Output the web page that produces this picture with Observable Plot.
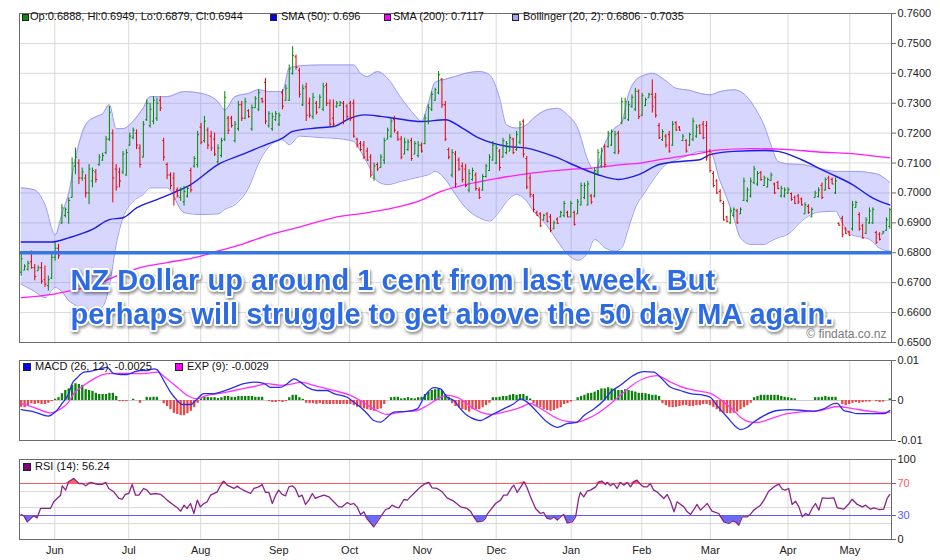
<!DOCTYPE html>
<html><head><meta charset="utf-8">
<script src="https://cdn.jsdelivr.net/npm/d3@7"></script>
<script src="https://cdn.jsdelivr.net/npm/@observablehq/plot@0.6"></script>
<style>
body{margin:0;background:#fff;}
#chart{position:relative;width:940px;height:560px;overflow:hidden;font-family:"Liberation Sans",Arial,sans-serif;}
#chart svg{position:absolute;left:0;}
.lg{position:absolute;font-size:11px;line-height:11px;color:#111;white-space:nowrap;font-family:"Liberation Sans",Arial,sans-serif;}
.sq{position:absolute;border:1px solid #222;box-sizing:border-box;}
</style></head>
<body><div id="chart"></div>
<script>
// ---------------- data ----------------
const monthLabels = ["Jun","Jul","Aug","Sep","Oct","Nov","Dec","Jan","Feb","Mar","Apr","May"];
const monthTicks  = [9.9,31.7,52.9,75.9,96.8,118.2,140.0,162.1,182.9,203.1,226.0,244.2]; // trading-day index
const priceTicks = [0.65,0.66,0.67,0.68,0.69,0.70,0.71,0.72,0.73,0.74,0.75,0.76];
const macdTicks = [-0.01,0,0.01];
const rsiGrid = [20,40,60];
const supportLevel = [0.68];
const annotation = ["NZ Dollar up around 1 cent from last week. But\nperhaps will struggle to get above the 50 day MA again."];
const copyright = ["\u00a9 findata.co.nz"];
const mainLegend = ["Op:0.6888, Hi:0.6949, Lo:0.6879, Cl:0.6944","SMA (50): 0.696","SMA (200): 0.7117","Bollinger (20, 2): 0.6806 - 0.7035"];
const macdLegend = ["MACD (26, 12): -0.0025","EXP (9): -0.0029"];
const rsiLegend = ["RSI (14): 56.24"];

// daily bars [open, high, low, close] in 1/10000 USD
const barOHLC = [
[6735,6800,6722,6780],[6742,6760,6740,6755],[6745,6772,6739,6765],[6770,6806,6745,6750],[6750,6761,6706,6720],
[6740,6756,6739,6750],[6750,6767,6695,6705],[6710,6756,6684,6695],[6690,6722,6672,6710],[6715,6795,6711,6785],
[6785,6833,6772,6815],[6815,6828,6778,6790],[6900,6961,6895,6950],[6925,6950,6917,6945],[6935,6983,6895,6975],
[6985,7117,6983,7100],[7090,7150,7061,7120],[7100,7111,7028,7050],[7050,7083,7039,7070],[7050,7061,6983,7000],
[7000,7095,6961,7080],[7040,7083,7017,7075],[7070,7078,7033,7045],[7095,7128,7089,7120],[7110,7133,7106,7125],
[7135,7189,7128,7180],[7180,7289,7172,7270],[7200,7211,6967,7050],[7080,7095,7006,7020],[7070,7083,7017,7040],
[7070,7139,7061,7130],[7060,7145,7056,7135],[7160,7200,7156,7190],[7185,7217,7178,7210],[7200,7211,7145,7160],
[7150,7161,7083,7095],[7120,7239,7117,7230],[7245,7311,7239,7300],[7225,7300,7217,7280],[7240,7322,7228,7310],
[7250,7317,7239,7300],[7310,7322,7272,7285],[7175,7183,7106,7120],[7095,7100,7044,7060],[7060,7067,7011,7025],
[7050,7067,6956,6980],[7010,7017,6983,6990],[6985,7017,6972,7010],[6970,7022,6956,7005],[6990,7022,6983,7015],
[7075,7083,7000,7010],[7090,7122,7083,7115],[7095,7206,7083,7195],[7220,7233,7161,7170],[7175,7256,7167,7240],
[7210,7217,7145,7160],[7190,7206,7139,7150],[7180,7200,7122,7130],[7105,7161,7095,7150],[7125,7183,7117,7175],
[7180,7339,7172,7320],[7250,7256,7195,7210],[7250,7256,7217,7225],[7175,7239,7167,7230],[7215,7306,7206,7295],
[7295,7306,7239,7250],[7250,7317,7245,7305],[7275,7278,7250,7255],[7215,7294,7206,7285],[7285,7322,7283,7315],
[7280,7345,7272,7335],[7315,7317,7300,7305],[7370,7383,7228,7240],[7225,7272,7217,7265],[7215,7267,7206,7255],
[7245,7272,7239,7265],[7230,7267,7222,7260],[7335,7345,7278,7290],[7310,7361,7306,7350],[7310,7428,7306,7415],
[7400,7489,7394,7460],[7455,7461,7411,7420],[7410,7417,7317,7330],[7295,7361,7289,7350],[7355,7367,7239,7260],
[7300,7317,7250,7260],[7255,7333,7245,7320],[7300,7306,7261,7270],[7285,7328,7283,7320],[7280,7367,7272,7355],
[7360,7367,7289,7300],[7300,7311,7222,7230],[7250,7311,7222,7230],[7290,7306,7283,7300],[7292,7306,7289,7302],
[7300,7306,7228,7240],[7290,7295,7245,7255],[7300,7306,7239,7250],[7300,7311,7183,7190],[7180,7183,7150,7160],
[7165,7172,7139,7145],[7160,7172,7111,7120],[7140,7150,7106,7110],[7120,7128,7050,7060],[7050,7100,7039,7090],
[7095,7100,7072,7080],[7085,7128,7083,7120],[7110,7183,7095,7175],[7180,7217,7178,7210],[7190,7250,7183,7240],
[7245,7256,7200,7210],[7200,7206,7172,7180],[7180,7189,7111,7120],[7130,7183,7128,7170],[7145,7178,7139,7170],
[7175,7183,7106,7115],[7130,7172,7128,7165],[7125,7172,7117,7160],[7160,7167,7133,7140],[7165,7261,7161,7250],
[7240,7295,7228,7285],[7280,7339,7272,7330],[7310,7350,7306,7345],[7335,7406,7328,7395],[7380,7383,7283,7295],
[7295,7306,7172,7180],[7145,7150,7111,7120],[7060,7145,7050,7135],[7130,7139,7017,7030],[7110,7117,7072,7080],
[7090,7100,7033,7045],[7080,7095,7017,7025],[7010,7078,7000,7065],[7045,7083,7039,7075],[7060,7067,7006,7015],
[7010,7017,6978,6985],[7010,7061,7006,7055],[7055,7095,7050,7090],[7075,7128,7072,7120],[7110,7172,7106,7160],
[7100,7161,7095,7150],[7140,7145,7072,7085],[7120,7183,7117,7175],[7135,7172,7128,7165],[7140,7195,7139,7185],
[7180,7183,7128,7135],[7145,7206,7139,7195],[7170,7239,7161,7230],[7240,7245,7117,7130],[7115,7122,7011,7020],
[7050,7061,6983,6995],[6990,6995,6934,6945],[6935,6939,6922,6925],[6930,6934,6884,6890],[6910,6928,6906,6925],
[6930,6934,6900,6905],[6920,6928,6867,6875],[6880,6906,6878,6900],[6912,6917,6895,6898],[6920,6939,6917,6935],
[6925,6972,6917,6965],[6935,6939,6917,6920],[6920,6972,6917,6965],[6935,6939,6889,6895],[6930,6978,6928,6970],
[6960,7033,6956,7025],[6985,7033,6978,7025],[6960,7039,6956,7030],[6990,6995,6961,6970],[6990,7083,6983,7075],
[7070,7145,7061,7135],[7090,7150,7083,7140],[7155,7161,7083,7095],[7155,7206,7150,7200],[7160,7211,7156,7205],
[7135,7206,7128,7195],[7200,7206,7128,7140],[7235,7317,7228,7305],[7250,7317,7245,7305],[7245,7306,7239,7295],
[7290,7328,7283,7320],[7280,7350,7272,7340],[7340,7345,7245,7255],[7260,7333,7256,7325],[7292,7317,7289,7312],
[7318,7333,7317,7330],[7330,7378,7267,7290],[7320,7333,7250,7260],[7225,7233,7178,7185],[7178,7211,7172,7205],
[7190,7195,7150,7160],[7195,7206,7133,7140],[7160,7239,7156,7230],[7235,7239,7206,7210],[7220,7222,7206,7210],
[7175,7195,7172,7190],[7175,7178,7133,7140],[7160,7200,7156,7195],[7180,7250,7172,7240],[7190,7228,7183,7220],
[7225,7228,7195,7200],[7230,7239,7178,7185],[7225,7239,7106,7120],[7140,7145,7067,7075],[7065,7072,7017,7025],
[7040,7045,6995,7000],[7005,7011,6967,6975],[6965,6972,6906,6910],[6920,6922,6900,6905],[6900,6950,6895,6940],
[6925,6950,6917,6945],[6940,6945,6895,6900],[6930,6950,6928,6945],[6975,7050,6972,7040],[6975,7017,6967,7010],
[6990,7050,6983,7040],[7035,7089,7028,7080],[7030,7072,7022,7065],[7068,7072,7039,7045],[7025,7056,7022,7050],
[7020,7050,7017,7045],[7042,7067,7039,7060],[7030,7033,6995,7000],[7035,7039,7011,7015],[6990,7022,6983,7015],
[6990,7017,6983,7010],[7000,7017,6995,7012],[6998,7000,6972,6978],[6985,6989,6961,6965],[6990,6995,6961,6970],
[6980,6983,6956,6960],[6930,6967,6928,6960],[6955,6961,6928,6935],[6920,6950,6917,6945],[6985,7006,6983,7000],
[6988,7017,6983,7010],[7025,7033,6978,6985],[7010,7050,7006,7045],[7050,7056,7011,7015],[7045,7050,7028,7030],
[7000,7050,6995,7040],[6898,6900,6889,6892],[6915,6922,6850,6860],[6880,6884,6861,6865],[6870,6872,6856,6858],
[6880,6972,6872,6960],[6952,6972,6950,6968],[6928,6934,6872,6880],[6890,6895,6845,6850],[6865,6917,6861,6910],
[6900,6950,6895,6940],[6900,6950,6895,6945],[6868,6872,6828,6835],[6862,6867,6839,6845],[6863,6872,6861,6870],
[6875,6917,6872,6910],[6888,6949,6879,6944]
];

// moving averages [bar index, value in 1/10000 USD]
const sma50 = [[0,6836],[9,6836],[14,6850],[21,6878],[26,6911],[30,6917],[34,6950],[40,6978],[46,7006],[50,7028],[58,7095],[65,7128],[72,7161],[77,7183],[80,7206],[87,7217],[92,7222],[97,7250],[101,7261],[106,7256],[110,7250],[118,7239],[125,7245],[130,7217],[135,7183],[143,7156],[149,7150],[157,7122],[165,7083],[170,7061],[176,7045],[182,7061],[188,7095],[195,7106],[200,7111],[203,7128],[210,7139],[219,7142],[223,7139],[230,7111],[237,7072],[245,7028],[251,6983],[256,6960]];
const sma200 = [[0,6650],[9,6661],[14,6672],[21,6689],[28,6722],[35,6750],[43,6767],[53,6789],[58,6806],[65,6828],[72,6856],[82,6886],[92,6917],[102,6934],[112,6956],[117,6972],[124,7006],[131,7028],[141,7050],[151,7067],[161,7078],[168,7083],[177,7095],[181,7098],[190,7115],[200,7132],[205,7143],[215,7148],[225,7146],[235,7137],[244,7132],[256,7117]];

// Bollinger (20,2)
const bbIdx = [0,4,7,10,12,14,16,19,22,24,26,28,30,33,36,38,43,48,53,58,60,63,67,70,73,75,77,79,82,88,92,98,100,102,105,108,112,116,118,120,122,125,128,131,135,138,141,143,146,149,151,155,158,161,164,167,169,172,175,177,179,181,184,186,190,193,197,200,203,206,208,210,212,215,217,219,221,223,226,230,235,240,242,244,246,250,253,256];
const bbUpper = [7017,7010,6961,6860,6930,7000,7117,7228,7255,7265,7295,7215,7215,7240,7285,7322,7322,7339,7333,7305,7278,7322,7333,7345,7339,7339,7339,7417,7425,7428,7428,7428,7400,7389,7406,7383,7317,7260,7239,7300,7370,7380,7390,7400,7406,7395,7317,7228,7217,7228,7250,7278,7283,7261,7217,7110,7072,7165,7217,7235,7330,7375,7395,7400,7375,7350,7343,7333,7328,7339,7343,7345,7339,7306,7270,7225,7160,7106,7097,7095,7083,7072,7072,7072,7072,7068,7060,7035];
const bbLower = [6695,6670,6650,6684,6670,6640,6625,6605,6610,6620,6690,6828,6917,6972,6995,7017,7017,6934,6928,6930,6945,6961,7017,7100,7155,7172,7178,7161,7190,7185,7183,7172,7140,7100,7039,7028,7039,7050,7055,7061,7072,7045,6995,6950,6917,6906,6939,6970,6995,6972,6939,6890,6840,6795,6775,6800,6845,6817,6806,6817,6883,6950,7005,7040,7095,7110,7128,7139,7139,7039,6983,6917,6850,6828,6828,6828,6840,6850,6862,6906,6936,6939,6900,6865,6856,6845,6815,6806];

// MACD (units of 0.0001)
const macdLine = [[0,-23],[4,-29],[8,-39],[10,-29],[12,-8],[14,17],[15,42],[16.5,57],[18.5,71],[20.4,73],[23.4,79],[25.3,83],[27.3,67],[29.3,65],[31.2,65],[33.2,71],[35.2,75],[37.1,75],[39.1,79],[40,77],[42,50],[44,21],[46,0],[47.4,-10],[49.9,-10],[51.9,4],[53.8,17],[56.8,17],[58.7,21],[62.7,33],[65.6,42],[68.6,46],[71.5,43],[73.5,33],[76.4,33],[78.4,42],[80.4,54],[82.3,46],[84.3,33],[87.2,25],[90.2,25],[92.1,17],[96.1,8],[98,-4],[100,-17],[102,-33],[103.9,-50],[105.9,-54],[107.9,-42],[109.8,-29],[113.8,-27],[116.7,-21],[118.7,8],[121.6,32],[123.6,29],[125.5,8],[127.5,0],[129.5,-21],[131.4,-37],[132.4,-42],[135.4,-50],[137.4,-42],[139.3,-33],[142.2,-21],[145.2,-8],[147.2,4],[149.1,-4],[152.1,-29],[155,-54],[158,-67],[160.9,-58],[163.9,-54],[165.8,-38],[168.8,-21],[171.7,0],[173.7,21],[176.6,38],[179.6,58],[181.5,68],[183.5,72],[186.5,71],[188.4,58],[191.4,33],[194.3,25],[197.3,17],[201.2,13],[203.1,8],[205.1,-13],[208.1,-42],[211,-68],[212,-73],[214,-67],[215.9,-54],[218.9,-38],[222.8,-25],[226.7,-23],[230.6,-25],[233.6,-27],[236.5,-21],[239.5,-8],[240.5,-7],[242.4,-25],[244.4,-29],[246.4,-33],[250.3,-33],[254.2,-33],[256,-25]];
const signalLine = [[0,-8],[3.7,-17],[8.6,-31],[11.6,-21],[13.6,-8],[15.5,17],[18.5,38],[21.4,54],[25.3,67],[29.3,68],[33.2,67],[37.1,68],[40,71],[43,54],[46,33],[48.9,13],[51.9,4],[54.8,13],[58.7,18],[62.7,25],[68.6,35],[72.5,42],[76.4,38],[80.4,42],[82.3,46],[86.2,38],[92.1,25],[97,13],[100,0],[103.9,-21],[107.9,-35],[111.8,-29],[116.7,-25],[119.6,-13],[123.6,8],[125.5,13],[128.5,8],[131.4,-8],[132.4,-15],[135.4,-29],[138.3,-35],[142.2,-29],[147.2,-17],[150.1,-7],[152.1,-15],[155,-30],[158,-45],[160.9,-52],[163.9,-54],[166.8,-46],[169.7,-33],[171.7,-21],[173.7,-8],[176.6,13],[179.6,35],[183.5,55],[187.4,62],[191.4,46],[195.3,32],[199.2,24],[203.1,18],[205.1,8],[208,-10],[210,-25],[212,-42],[214,-52],[216.9,-55],[220.8,-46],[225.7,-33],[230.6,-28],[235.5,-25],[240.5,-15],[245.4,-21],[250.3,-27],[254.2,-30],[256,-29]];
const macdHist = [
-17,-18,-13,-8,-10,-8,-10,-10,-7,-3,
3,7,17,25,29,38,42,40,38,27,
25,23,18,15,15,15,18,18,10,-3,
-3,-3,0,3,0,-7,0,8,7,8,
8,0,-8,-15,-23,-32,-35,-38,-38,-33,
-27,-18,-7,4,8,8,7,7,5,7,
10,10,8,8,10,10,10,10,10,8,
8,8,0,-3,-5,-5,-3,-5,-3,7,
13,13,7,3,-7,-8,-8,-10,-8,-10,
-10,-10,-10,-10,-10,-10,-10,-10,-13,-17,
-18,-21,-23,-25,-27,-23,-21,-10,0,7,
8,8,4,5,7,5,4,7,8,15,
21,25,27,29,25,15,8,-8,-15,-18,
-23,-25,-29,-23,-23,-23,-18,-13,-7,7,
7,8,10,10,13,15,13,15,15,10,
4,-8,-15,-18,-23,-25,-27,-25,-21,-18,
-10,-8,-4,0,7,10,13,17,18,21,
25,29,29,32,29,27,25,25,27,25,
23,21,18,18,17,15,13,13,10,-8,
-13,-17,-18,-17,-15,-13,-13,-15,-15,-13,
-13,-10,-10,-13,-17,-23,-29,-32,-33,-33,
-32,-29,-23,-18,-13,-7,7,10,13,13,
13,13,13,13,10,8,7,5,4,0,
0,0,0,0,7,7,8,10,8,8,
8,0,-10,-13,-10,-7,-5,-7,-5,-4,
-4,0,-3,-5,-4,0,4];

// RSI (14) [bar index, value]
const rsiLine = [[0,31.3],[0.8,29.6],[1.8,22.1],[2.8,26.3],[3.7,29.6],[4.7,27.1],[5.7,38.8],[7.7,38.8],[8.6,38.8],[9.6,47.1],[10.6,51.3],[11.6,55.4],[12.1,67.1],[13.1,61.7],[14,72.1],[15.5,76.3],[17,70],[18,70],[19,67.1],[20.4,71.3],[22.4,68.8],[23.9,68.8],[24.9,71.3],[25.8,63.8],[27.3,59.6],[28.8,51.3],[29.8,50.4],[30.7,56.3],[31.7,57.5],[32.7,68.8],[33.7,55.4],[34.7,55.4],[36.1,63.8],[37.1,61.7],[38.1,56.3],[39.6,57.5],[41.1,56.3],[42,53.3],[43,49.2],[45,42.9],[46,39.6],[47,35.4],[48,42.9],[48.9,38.8],[49.9,45],[50.9,32.5],[51.9,49.2],[52.8,40.8],[53.8,45],[54.8,47.1],[55.8,55.4],[57.8,59.6],[58.7,67.1],[59.7,72.9],[60.7,67.9],[62.7,63.8],[63.7,66.7],[64.6,63.8],[66.1,60.4],[67.6,57.5],[68.6,63.8],[70,65.8],[71,68.8],[72,58.8],[73,58.8],[74,45],[75,55.4],[75.9,61.7],[76.9,56.3],[77.9,54.6],[78.9,65.8],[79.9,67.1],[80.8,63.8],[81.8,53.3],[82.8,55.4],[83.8,43.8],[84.8,49.2],[85.8,57.5],[86.7,51.3],[87.7,53.3],[89.2,55.4],[90.7,53.3],[92.1,47.1],[93.6,40.8],[94.6,40.8],[96.1,46.3],[97.1,43.8],[98,45],[99,40.8],[100,31.3],[101,34.6],[102,25.4],[103.9,15.8],[104.9,22.1],[105.9,28.3],[107.4,37.5],[108.4,38.8],[109.3,42.9],[110.3,40.8],[111.3,39.6],[112.8,50],[113.8,49.2],[114.7,53.3],[116.2,59.6],[117.7,65.8],[118.7,68.8],[120.1,71.3],[121.1,64.6],[122.6,63.8],[124.1,59.6],[125.5,52.1],[127.5,47.9],[129.5,40.8],[131.4,38.8],[132.4,35.4],[133.4,28.3],[134.4,22.1],[135.9,22.9],[136.8,26.3],[137.3,31.3],[138.3,36.7],[139.8,45],[141.3,49.2],[142.2,55.4],[143.2,55.4],[144.7,65.8],[145.2,67.9],[146.2,58.8],[148.2,72.1],[149.1,64.6],[150.1,53.3],[151.6,38.8],[153,32.5],[154,33.8],[155,26.3],[156,25.4],[157,28.3],[158,24.2],[159,28.3],[159.9,31.3],[160.9,20.8],[162.4,22.1],[163.4,28.3],[164.3,51.3],[164.8,58.8],[165.8,53.3],[166.8,60.4],[167.8,61.7],[169.3,65.8],[170.3,72.1],[171.2,72.9],[172.2,68.8],[172.7,71.3],[173.7,67.1],[174.6,70],[175.6,63.8],[176.6,71.3],[177.6,67.9],[178.6,71.3],[179.6,65.8],[180.5,72.1],[181.5,74.2],[182.5,68.8],[183.5,65.8],[184.5,65.8],[185.4,70],[186.4,61.7],[187.4,59.6],[188.4,55.4],[189.4,51.3],[190.4,56.3],[191.4,47.1],[192.4,34.6],[193.3,47.1],[195.3,40.8],[196.3,34.6],[197.3,31.3],[199.2,43.8],[200.2,36.7],[201.2,40.8],[202.2,45],[203.6,35.4],[204.6,33.8],[205.6,32.5],[207.1,22.1],[208.6,20],[209.5,22.9],[210.5,22.1],[211.5,17.9],[212.5,28.3],[214,28.3],[214.9,31.3],[215.9,36.7],[217.9,42.9],[218.9,49.2],[220.3,60.4],[222.3,67.1],[223.3,69.2],[224.3,62.9],[225.2,61.7],[226.2,63.8],[227.2,43.8],[228.2,47.9],[229.2,40.8],[230.2,28.3],[231.2,32.5],[232.1,30.4],[233.1,38.8],[234.1,45],[235.1,36.7],[236.1,52.1],[237.6,51.3],[239.5,52.1],[240.5,39.6],[242.5,37.9],[244,45],[244.9,50.4],[246.4,43.8],[247.9,40.8],[248.9,42.9],[250.3,37.9],[251.3,39.6],[252.8,37.5],[254.2,37.9],[255.2,51.3],[256,56.24]];

// ---------------- build ----------------
const PIP = 1e4;
const bars = barOHLC.map((r, i) => ({i, o: r[0]/PIP, h: r[1]/PIP, l: r[2]/PIP, c: r[3]/PIP}));
const barColor = d => d.c >= d.o ? "#008a00" : "#e80000";
const bb = bbIdx.map((i, k) => ({i, up: bbUpper[k]/PIP, lo: bbLower[k]/PIP}));
const hist = macdHist.map((v, i) => ({i, v: v/PIP})).filter(d => d.v !== 0);
const mtick = d => monthLabels[monthTicks.indexOf(d)];

const GRID = "#d9d9d9", FRAME = "#6b6b6b";
const common = {
  width: 940, marginLeft: 19, marginRight: 49,
  x: {domain: [-0.5, 256.5], axis: null},
  style: {fontFamily: "'Liberation Sans', Arial, sans-serif", fontSize: "11px", color: "#222", background: "transparent", overflow: "visible"}
};

const main = Plot.plot({
  ...common, height: 345, marginTop: 13, marginBottom: 3,
  y: {domain: [0.65, 0.76], axis: null},
  marks: [
    Plot.gridY(priceTicks, {stroke: GRID, strokeOpacity: 1}),
    Plot.gridX(monthTicks, {stroke: GRID, strokeOpacity: 1}),
    Plot.areaY(bb, {x: "i", y1: "lo", y2: "up", fill: "#6b6bff", fillOpacity: 0.28, curve: "monotone-x"}),
    Plot.line(bb, {x: "i", y: "up", stroke: "#9a9af2", strokeWidth: 1, curve: "monotone-x"}),
    Plot.line(bb, {x: "i", y: "lo", stroke: "#9a9af2", strokeWidth: 1, curve: "monotone-x"}),
    Plot.line(sma200, {x: d => d[0], y: d => d[1]/PIP, stroke: "#ff1cff", strokeWidth: 1.3, curve: "monotone-x"}),
    Plot.line(sma50, {x: d => d[0], y: d => d[1]/PIP, stroke: "#1c1ce6", strokeWidth: 1.4, curve: "monotone-x"}),
    Plot.ruleX(bars, {x: "i", y1: "l", y2: "h", stroke: barColor, strokeWidth: 1}),
    Plot.link(bars, {x1: d => d.i - 0.42, x2: "i", y1: "o", y2: "o", stroke: barColor, strokeWidth: 1}),
    Plot.link(bars, {x1: "i", x2: d => d.i + 0.42, y1: "c", y2: "c", stroke: barColor, strokeWidth: 1}),
    Plot.ruleY(supportLevel, {stroke: "#3477e2", strokeWidth: 3.5}),
    Plot.text(annotation, {text: d => d, frameAnchor: "top-left", dx: 51, dy: 253, lineAnchor: "top", lineHeight: 1.15,
      fontSize: 29, fontWeight: "bold", fill: "#2d6be4", stroke: "white", strokeWidth: 4, fontFamily: "'Liberation Sans', Arial, sans-serif"}),
    Plot.text(copyright, {text: d => d, frameAnchor: "bottom-right", dx: -5, dy: -5, lineAnchor: "bottom", fill: "#7a7a7a", fontSize: 12}),
    Plot.frame({stroke: FRAME}),
    Plot.axisY(priceTicks, {anchor: "right", tickFormat: d => d.toFixed(4), tickSize: 4, tickPadding: 2, stroke: FRAME, fill: "#222", label: null})
  ]
});

const macd = Plot.plot({
  ...common, height: 95, marginTop: 10, marginBottom: 5,
  y: {domain: [-0.01, 0.01], axis: null},
  marks: [
    Plot.gridX(monthTicks, {stroke: GRID, strokeOpacity: 1}),
    Plot.ruleY([0], {stroke: "#cccccc"}),
    Plot.ruleX(hist, {x: "i", y1: 0, y2: "v", stroke: d => d.v >= 0 ? "#0b800b" : "#e84848", strokeWidth: 2.3}),
    Plot.line(signalLine, {x: d => d[0], y: d => d[1]/PIP, stroke: "#ff33ff", strokeWidth: 1.3, curve: "monotone-x"}),
    Plot.line(macdLine, {x: d => d[0], y: d => d[1]/PIP, stroke: "#2a2af0", strokeWidth: 1.3, curve: "monotone-x"}),
    Plot.frame({stroke: FRAME}),
    Plot.axisY(macdTicks, {anchor: "right", tickFormat: d => d === 0 ? "0" : String(d), tickSize: 4, tickPadding: 2, stroke: FRAME, fill: "#222", label: null})
  ]
});

const rsi = Plot.plot({
  ...common, height: 105, marginTop: 4, marginBottom: 21,
  y: {domain: [0, 100], axis: null},
  marks: [
    Plot.gridX(monthTicks, {stroke: GRID, strokeOpacity: 1}),
    Plot.gridY(rsiGrid, {stroke: GRID, strokeOpacity: 1}),
    Plot.areaY(rsiLine, {x: d => d[0], y1: 70, y2: d => Math.max(d[1], 70), fill: "#f86a6a"}),
    Plot.areaY(rsiLine, {x: d => d[0], y1: 30, y2: d => Math.min(d[1], 30), fill: "#6a6af8"}),
    Plot.ruleY([70], {stroke: "#ff5a5a"}),
    Plot.ruleY([30], {stroke: "#5a5aff"}),
    Plot.line(rsiLine, {x: d => d[0], y: d => d[1], stroke: "#8a248a", strokeWidth: 1.3}),
    Plot.frame({stroke: FRAME}),
    Plot.axisY([0, 100], {anchor: "right", tickSize: 4, tickPadding: 2, stroke: FRAME, fill: "#222", label: null}),
    Plot.axisY([70], {anchor: "right", tickSize: 4, tickPadding: 2, stroke: FRAME, fill: "#ff5a5a", label: null}),
    Plot.axisY([30], {anchor: "right", tickSize: 4, tickPadding: 2, stroke: FRAME, fill: "#5a5aff", label: null}),
    Plot.axisX(monthTicks, {tickFormat: mtick, tickSize: 0, tickPadding: 7, fill: "#222", label: null})
  ]
});

const chart = document.getElementById("chart");
main.style.top = "0px"; macd.style.top = "350px"; rsi.style.top = "455px";
chart.append(main, macd, rsi);

// shadow for the annotation text
for (const t of main.querySelectorAll("text")) {
  if (t.textContent.startsWith("NZ Dollar")) t.style.filter = "drop-shadow(1px 2px 1.5px rgba(0,0,0,0.45))";
}

// legends
function legendItem(sqX, textX, cy, size, color, label) {
  const s = document.createElement("div");
  s.className = "sq";
  Object.assign(s.style, {left: sqX + "px", top: (cy - size/2) + "px", width: size + "px", height: size + "px", background: color});
  const t = document.createElement("div");
  t.className = "lg";
  t.textContent = label;
  Object.assign(t.style, {left: textX + "px", top: (cy - 6) + "px"});
  chart.append(s, t);
}
const mainCols = ["#0e8a0e", "#0000ee", "#ff00ff", "#a6a6f8"];
const mainX = [[22, 30], [270, 281], [384, 393], [512, 523]];
mainLegend.forEach((l, k) => legendItem(mainX[k][0], mainX[k][1], 17, 7, mainCols[k], l));
legendItem(23, 35, 367, 8, "#0000ee", macdLegend[0]);
legendItem(175, 187, 367, 8, "#ff00ff", macdLegend[1]);
legendItem(23, 35, 467, 8, "#800080", rsiLegend[0]);
</script>
</body></html>
